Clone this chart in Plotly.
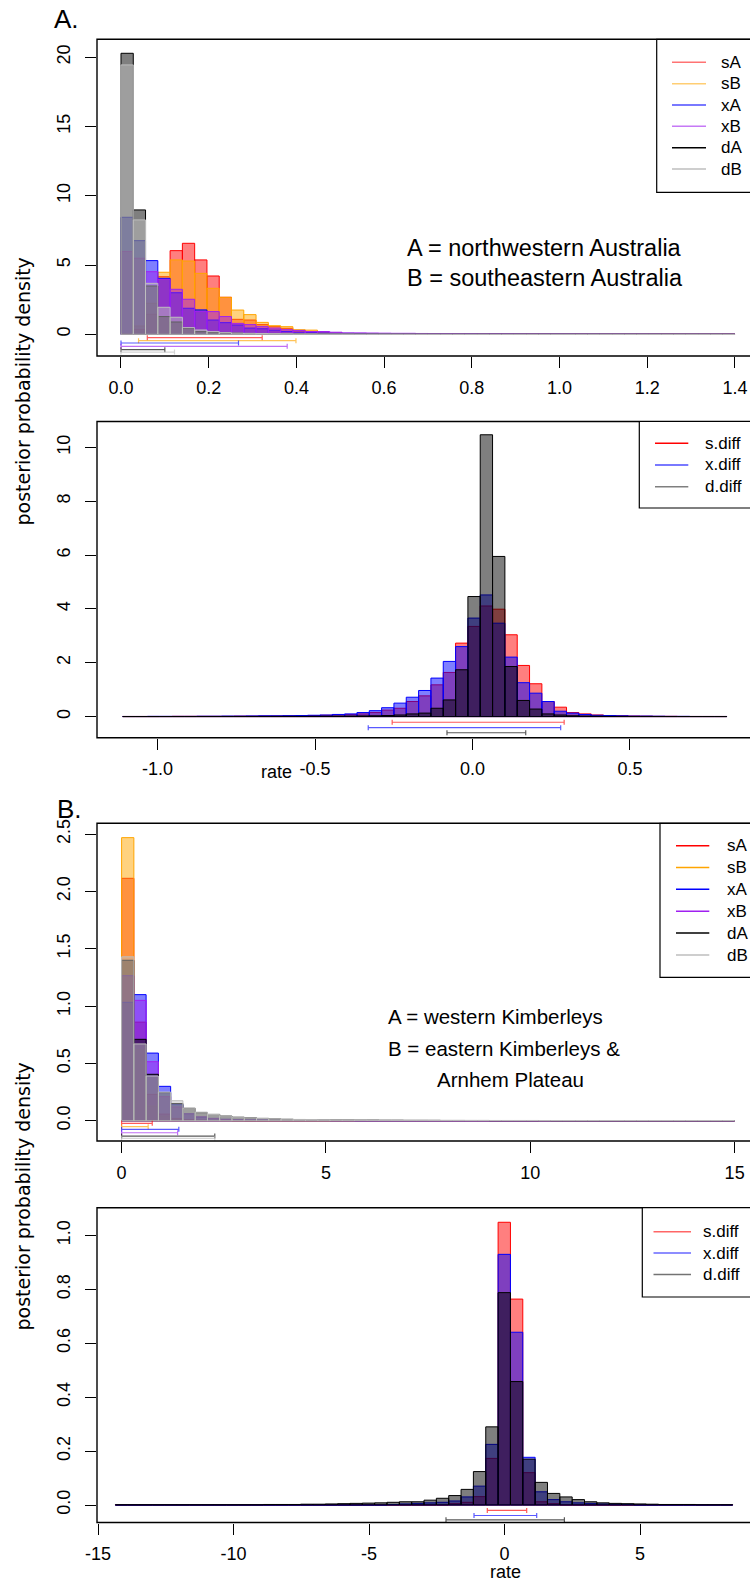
import plotly.graph_objects as go

# ======================= DATA =======================
# Panel A, top: posterior densities of rates (histogram bins, width 0.028 from 0)
A1_bin_start = 0.0
A1_bin_width = 0.028
A1_names = ["sA", "sB", "xA", "xB", "dA", "dB"]
A1_sA = [0, 0.35, 1.44, 4.16, 6.04, 6.57, 5.37, 4.21, 2.67, 1.08,
         1.03, 0.70, 0.55, 0.43, 0.22, 0.15, 0.10, 0.08, 0.06, 0.05,
         0.04, 0.03, 0.03, 0.02, 0.02, 0.02, 0.01, 0.01, 0.01, 0.01,
         0.01, 0.01, 0.005, 0.005, 0.005, 0.005, 0.005, 0.005, 0, 0,
         0, 0, 0, 0, 0.005, 0, 0, 0, 0, 0.005]
A1_sB = [0, 0.60, 2.24, 4.48, 5.37, 5.29, 4.40, 3.32, 2.67, 1.75,
         1.42, 0.86, 0.62, 0.55, 0.33, 0.30, 0.10, 0.08, 0.06, 0.05,
         0.04, 0.03, 0.03, 0.02, 0.02, 0.01, 0.01, 0.01, 0.01, 0.005,
         0.005, 0.005, 0.005, 0.005, 0, 0, 0, 0, 0, 0,
         0, 0, 0, 0, 0, 0, 0, 0, 0, 0]
A1_xA = [8.45, 6.76, 5.32, 4.04, 3.00, 1.88, 1.76, 1.03, 0.84, 0.67,
         0.45, 0.40, 0.30, 0.20, 0.15, 0.12, 0.10, 0.08, 0.07, 0.06,
         0.05, 0.04, 0.035, 0.03, 0.025, 0.02, 0.02, 0.015, 0.015, 0.01,
         0.01, 0.01, 0.01, 0.008, 0.008, 0.006, 0.006, 0.005, 0.005, 0.004,
         0.004, 0.003, 0.003, 0.003, 0.002, 0.002, 0.002, 0.002, 0.001, 0.001]
A1_xB = [5.97, 5.49, 4.52, 3.97, 3.25, 2.53, 1.64, 1.64, 1.28, 0.79,
         0.70, 0.55, 0.45, 0.33, 0.28, 0.20, 0.20, 0.15, 0.10, 0.10,
         0.09, 0.08, 0.07, 0.07, 0.06, 0.05, 0.05, 0.04, 0.04, 0.03,
         0.03, 0.03, 0.02, 0.02, 0.02, 0.02, 0.015, 0.015, 0.01, 0.01,
         0.01, 0.01, 0.01, 0.008, 0.008, 0.006, 0.006, 0.005, 0.005, 0.005]
A1_dA = [20.29, 8.98, 3.49, 1.28, 0.89, 0.43, 0.19, 0.12, 0.10, 0.08,
         0.06, 0.05, 0.04, 0.03, 0.03, 0.02, 0.02, 0.015, 0.01, 0.01,
         0.01, 0.008, 0.006, 0.005, 0.005, 0.004, 0.003, 0.003, 0.002, 0.002,
         0, 0, 0, 0, 0, 0, 0, 0, 0, 0,
         0, 0, 0, 0, 0, 0, 0, 0, 0, 0]
A1_dB = [19.45, 8.26, 3.68, 1.95, 1.23, 0.48, 0.31, 0.19, 0.12, 0.09,
         0.07, 0.06, 0.05, 0.04, 0.03, 0.03, 0.02, 0.02, 0.015, 0.01,
         0.01, 0.01, 0.008, 0.006, 0.005, 0.004, 0.003, 0.003, 0.002, 0.002,
         0, 0, 0, 0, 0, 0, 0, 0, 0, 0,
         0, 0, 0, 0, 0, 0, 0, 0, 0, 0]
A1_hpd_lo = [0.060, 0.040, 0.0, 0.0, 0.0, 0.0]
A1_hpd_hi = [0.322, 0.399, 0.268, 0.379, 0.100, 0.122]
A1_xticks = [0.0, 0.2, 0.4, 0.6, 0.8, 1.0, 1.2, 1.4]
A1_xticktext = ["0.0", "0.2", "0.4", "0.6", "0.8", "1.0", "1.2", "1.4"]
A1_yticks = [0, 5, 10, 15, 20]
A1_yticktext = ["0", "5", "10", "15", "20"]

# Panel A, bottom: differences (49 bins)
A2_bin_start = -1.1105
A2_bin_width = 0.03914
A2_names = ["s.diff", "x.diff", "d.diff"]
A2_s = [0.005, 0.005, 0.005, 0.005, 0.01, 0.01, 0.01, 0.01, 0.01, 0.015,
        0.015, 0.02, 0.02, 0.025, 0.03, 0.04, 0.05, 0.07, 0.08, 0.10,
        0.15, 0.24, 0.31, 0.56, 0.77, 1.18, 1.64, 2.73, 3.35, 4.11,
        3.99, 3.04, 1.90, 1.22, 0.56, 0.35, 0.15, 0.10, 0.06, 0.04,
        0.03, 0.02, 0.015, 0.01, 0.01, 0.005, 0.005, 0.005, 0.005]
A2_x = [0.005, 0.005, 0.01, 0.01, 0.01, 0.01, 0.015, 0.015, 0.02, 0.02,
        0.025, 0.03, 0.03, 0.035, 0.04, 0.05, 0.06, 0.08, 0.10, 0.15,
        0.22, 0.33, 0.50, 0.72, 0.97, 1.43, 2.05, 2.60, 3.66, 4.52,
        3.47, 2.21, 1.26, 0.87, 0.56, 0.20, 0.13, 0.08, 0.05, 0.04,
        0.03, 0.02, 0.02, 0.015, 0.01, 0.01, 0.005, 0.005, 0.005]
A2_d = [0.002, 0.002, 0.002, 0.003, 0.003, 0.003, 0.004, 0.004, 0.005, 0.005,
        0.006, 0.007, 0.008, 0.01, 0.01, 0.012, 0.015, 0.018, 0.02, 0.025,
        0.03, 0.04, 0.06, 0.10, 0.13, 0.31, 0.62, 1.74, 4.46, 10.47,
        5.95, 1.86, 0.60, 0.28, 0.10, 0.06, 0.03, 0.02, 0.015, 0.01,
        0.008, 0.006, 0.005, 0.004, 0.003, 0.003, 0.002, 0.002, 0.002]
A2_hpd_lo = [-0.255, -0.331, -0.081]
A2_hpd_hi = [0.291, 0.280, 0.169]
A2_xticks = [-1.0, -0.5, 0.0, 0.5]
A2_xticktext = ["-1.0", "-0.5", "0.0", "0.5"]
A2_yticks = [0, 2, 4, 6, 8, 10]
A2_yticktext = ["0", "2", "4", "6", "8", "10"]

# Panel B, top: posterior densities of rates (bins width 0.3 from 0)
B1_bin_start = 0.0
B1_bin_width = 0.3
B1_names = ["sA", "sB", "xA", "xB", "dA", "dB"]
B1_sA = [2.115, 0.86, 0.23, 0.058, 0.02, 0.01, 0.005, 0.003, 0.002, 0.001] + [0] * 40
B1_sB = [2.47, 0.62, 0.128, 0.04, 0.015, 0.005, 0.003, 0.002, 0.001, 0] + [0] * 40
B1_xA = [1.033, 1.10, 0.59, 0.30, 0.14, 0.06, 0.03, 0.02, 0.012, 0.008,
         0.006, 0.005, 0.004, 0.003, 0.003, 0.002, 0.002, 0.001, 0.001, 0] + [0] * 30
B1_xB = [1.265, 1.05, 0.515, 0.21, 0.12, 0.06, 0.035, 0.02, 0.012, 0.008,
         0.006, 0.005, 0.004, 0.003, 0.003, 0.002, 0.002, 0.001, 0.001, 0] + [0] * 30
B1_dA = [1.40, 0.71, 0.405, 0.245, 0.15, 0.108, 0.07, 0.055, 0.04, 0.03,
         0.025, 0.02, 0.015, 0.012, 0.01, 0.009, 0.008, 0.007, 0.006, 0.005,
         0.005, 0.004, 0.004, 0.003, 0.003, 0.003, 0.002, 0.002, 0.002, 0.002,
         0.001, 0.001, 0.001, 0.001, 0.001] + [0] * 15
B1_dB = [1.43, 0.67, 0.39, 0.25, 0.175, 0.11, 0.075, 0.055, 0.04, 0.03,
         0.025, 0.02, 0.016, 0.013, 0.011, 0.01, 0.009, 0.008, 0.007, 0.006,
         0.005, 0.005, 0.004, 0.004, 0.004, 0.003, 0.003, 0.003, 0.002, 0.002,
         0.002, 0.002, 0.002, 0.002, 0.001, 0.001, 0.001, 0.001, 0.001, 0.001,
         0.001, 0.001, 0.001, 0.001, 0.001, 0.001, 0.001, 0.001, 0.001, 0.001]
B1_hpd_lo = [0.0, 0.0, 0.0, 0.0, 0.0, 0.0]
B1_hpd_hi = [0.75, 0.65, 1.40, 1.37, 2.28, 2.28]
B1_xticks = [0, 5, 10, 15]
B1_xticktext = ["0", "5", "10", "15"]
B1_yticks = [0.0, 0.5, 1.0, 1.5, 2.0, 2.5]
B1_yticktext = ["0.0", "0.5", "1.0", "1.5", "2.0", "2.5"]

# Panel B, bottom: differences (50 bins)
B2_bin_start = -14.36
B2_bin_width = 0.4556
B2_names = ["s.diff", "x.diff", "d.diff"]
B2_s = [0] * 27 + [0.005, 0.01, 0.031, 0.173, 1.049, 0.764, 0.12, 0.012, 0.005] + [0] * 14
B2_x = [0] * 22 + [0.002, 0.004, 0.006, 0.008, 0.01, 0.015, 0.03, 0.07, 0.225, 0.93,
                   0.641, 0.177, 0.049, 0.02, 0.012, 0.008, 0.006, 0.004, 0.003, 0.002] + [0] * 8
B2_d = [0.001, 0.001, 0.001, 0.001, 0.001, 0.001, 0.001, 0.001, 0.001, 0.001,
        0.001, 0.001, 0.002, 0.002, 0.002, 0.003, 0.003, 0.004, 0.005, 0.006,
        0.007, 0.008, 0.010, 0.012, 0.012, 0.018, 0.025, 0.035, 0.058, 0.124,
        0.29, 0.788, 0.458, 0.17, 0.084, 0.043, 0.03, 0.02, 0.012, 0.008,
        0.006, 0.005, 0.004, 0.003, 0.002, 0.002, 0.002, 0.001, 0.001, 0.001]
B2_hpd_lo = [-0.635, -1.125, -2.159]
B2_hpd_hi = [0.819, 1.188, 2.210]
B2_xticks = [-15, -10, -5, 0, 5]
B2_xticktext = ["-15", "-10", "-5", "0", "5"]
B2_yticks = [0.0, 0.2, 0.4, 0.6, 0.8, 1.0]
B2_yticktext = ["0.0", "0.2", "0.4", "0.6", "0.8", "1.0"]

# ======================= STYLE =======================
W, H = 750, 1593
FONT = "Liberation Sans, Arial, Helvetica, sans-serif"
RGB = {"sA": (255, 0, 0), "sB": (255, 165, 0), "xA": (0, 0, 255), "xB": (160, 32, 240),
       "dA": (0, 0, 0), "dB": (190, 190, 190),
       "s.diff": (255, 0, 0), "x.diff": (0, 0, 255), "d.diff": (0, 0, 0)}


def rgba(c, a):
    return "rgba(%d,%d,%d,%.2f)" % (c[0], c[1], c[2], a)


def pxx(x):
    return x / W


def pxy(y):
    return 1 - y / H


# pixel layout of each plot box and axis ranges
panels = [
    dict(ax="", top=39.3, bottom=356.0, xr=[-0.0547, 1.4344], yr=[-1.567, 21.30],
         names=A1_names, series=[A1_sA, A1_sB, A1_xA, A1_xB, A1_dA, A1_dB],
         start=A1_bin_start, width=A1_bin_width, lo=A1_hpd_lo, hi=A1_hpd_hi,
         hpd_y=[-0.245, -0.46, -0.63, -0.87, -1.11, -1.28],
         xt=A1_xticks, xtt=A1_xticktext, yt=A1_yticks, ytt=A1_yticktext),
    dict(ax="2", top=421.5, bottom=737.7, xr=[-1.1921, 0.881], yr=[-0.784, 10.963],
         names=A2_names, series=[A2_s, A2_x, A2_d],
         start=A2_bin_start, width=A2_bin_width, lo=A2_hpd_lo, hi=A2_hpd_hi,
         hpd_y=[-0.21, -0.41, -0.60],
         xt=A2_xticks, xtt=A2_xticktext, yt=A2_yticks, ytt=A2_yticktext),
    dict(ax="3", top=823.3, bottom=1141.0, xr=[-0.602, 15.376], yr=[-0.177, 2.595],
         names=B1_names, series=[B1_sA, B1_sB, B1_xA, B1_xB, B1_dA, B1_dB],
         start=B1_bin_start, width=B1_bin_width, lo=B1_hpd_lo, hi=B1_hpd_hi,
         hpd_y=[-0.023, -0.052, -0.075, -0.105, -0.134, -0.154],
         xt=B1_xticks, xtt=B1_xticktext, yt=B1_yticks, ytt=B1_yticktext),
    dict(ax="4", top=1207.7, bottom=1522.5, xr=[-15.037, 9.059], yr=[-0.0649, 1.1031],
         names=B2_names, series=[B2_s, B2_x, B2_d],
         start=B2_bin_start, width=B2_bin_width, lo=B2_hpd_lo, hi=B2_hpd_hi,
         hpd_y=[-0.020, -0.039, -0.055],
         xt=B2_xticks, xtt=B2_xticktext, yt=B2_yticks, ytt=B2_yticktext),
]

fig = go.Figure()
layout = dict(width=W, height=H, margin=dict(l=0, r=0, t=0, b=0, pad=0, autoexpand=False),
              autosize=False,
              paper_bgcolor="white", plot_bgcolor="white", barmode="overlay",
              showlegend=False, font=dict(family=FONT, color="black"))
shapes = []
annotations = []

for p in panels:
    xa = "x" + p["ax"]
    ya = "y" + p["ax"]
    for name, vals in zip(p["names"], p["series"]):
        c = RGB[name]
        centers = [p["start"] + (i + 0.5) * p["width"] for i in range(len(vals))]
        fig.add_trace(go.Bar(x=centers, y=vals, width=p["width"], xaxis=xa, yaxis=ya,
                             marker=dict(color=rgba(c, 0.5), line=dict(color=rgba(c, 1.0), width=1)),
                             hoverinfo="skip"))
    for name, lo, hi, yv in zip(p["names"], p["lo"], p["hi"], p["hpd_y"]):
        c = RGB[name]
        mid = (lo + hi) / 2
        fig.add_trace(go.Scatter(x=[mid], y=[yv], xaxis=xa, yaxis=ya, mode="markers",
                                 marker=dict(size=1, color="rgba(0,0,0,0)"),
                                 error_x=dict(type="data", symmetric=False, array=[hi - mid],
                                              arrayminus=[mid - lo], color=rgba(c, 0.65),
                                              thickness=1.2, width=2.5),
                                 hoverinfo="skip"))
    dom_y = [pxy(p["bottom"]), pxy(p["top"])]
    layout["xaxis" + p["ax"]] = dict(
        domain=[pxx(97), 1.0], range=p["xr"], anchor=ya, showgrid=False, zeroline=False,
        showline=False, ticks="outside", ticklen=11, tickwidth=1, tickcolor="black",
        tickvals=p["xt"], ticktext=p["xtt"], tickfont=dict(family=FONT, size=18, color="black"),
        ticklabelstandoff=4, automargin=False, fixedrange=True)
    layout["yaxis" + p["ax"]] = dict(
        domain=dom_y, range=p["yr"], anchor=xa, showgrid=False, zeroline=False,
        showline=False, ticks="outside", ticklen=11, tickwidth=1, tickcolor="black",
        tickvals=p["yt"], ticktext=p["ytt"], tickangle=-90,
        tickfont=dict(family=FONT, size=18, color="black"), ticklabelstandoff=8,
        automargin=False, fixedrange=True)
    shapes.append(dict(type="rect", xref=xa + " domain", yref=ya + " domain",
                       x0=0, x1=1.05, y0=0, y1=1, line=dict(color="black", width=1.4),
                       fillcolor="rgba(0,0,0,0)", layer="above"))

# ---------------- legends (drawn like R legend boxes) ----------------
legend_specs = [
    dict(box=(656.7, 39.3, 192.3), ys=[62.3, 83.7, 105.0, 126.3, 147.7, 169.0],
         line=(672, 706), tx=719, names=A1_names, alpha=[0.55, 0.55, 0.7, 0.6, 1.0, 1.0]),
    dict(box=(639.3, 421.5, 508.0), ys=[443.3, 465.0, 486.7],
         line=(655, 688.3), tx=703, names=A2_names, alpha=[1.0, 0.7, 0.5]),
    dict(box=(660.0, 823.3, 977.3), ys=[845.7, 867.5, 889.3, 911.2, 933.0, 955.0],
         line=(676, 709.3), tx=725, names=B1_names, alpha=[1.0, 1.0, 1.0, 1.0, 1.0, 1.0]),
    dict(box=(642.3, 1207.7, 1297.0), ys=[1231.7, 1253.0, 1274.5],
         line=(653.5, 691), tx=701, names=B2_names, alpha=[0.6, 0.6, 0.55]),
]
for L in legend_specs:
    bx, btop, bbot = L["box"]
    shapes.append(dict(type="rect", xref="paper", yref="paper", x0=pxx(bx), x1=pxx(800),
                       y0=pxy(bbot), y1=pxy(btop), line=dict(color="black", width=1.2),
                       fillcolor="white", layer="above"))
    for name, yy, a in zip(L["names"], L["ys"], L["alpha"]):
        shapes.append(dict(type="line", xref="paper", yref="paper", x0=pxx(L["line"][0]),
                           x1=pxx(L["line"][1]), y0=pxy(yy), y1=pxy(yy),
                           line=dict(color=rgba(RGB[name], a), width=1.5), layer="above"))
        annotations.append(dict(text=name, x=pxx(L["tx"]), y=pxy(yy), xref="paper", yref="paper",
                                xanchor="left", yanchor="middle", showarrow=False,
                                font=dict(family=FONT, size=17, color="black")))

# ---------------- texts ----------------
texts = [
    ("A.", 52, 18.5, 26, "left"),
    ("B.", 55, 809, 26, "left"),
    ("A = northwestern Australia", 404.5, 247.7, 23.5, "left"),
    ("B = southeastern Australia", 404.5, 277.7, 23.5, "left"),
    ("A = western Kimberleys", 386, 1016, 20.5, "left"),
    ("B = eastern Kimberleys &", 386, 1048, 20.5, "left"),
    ("Arnhem Plateau", 435, 1079, 20.5, "left"),
    ("rate", 276, 772, 18, "center"),
    ("rate", 505, 1572, 18, "center"),
]
for t, x, y, s, anc in texts:
    annotations.append(dict(text=t, x=pxx(x), y=pxy(y), xref="paper", yref="paper",
                            xanchor=anc, yanchor="middle", showarrow=False,
                            font=dict(family=FONT, size=s, color="black")))
for yc in [392, 1197]:
    annotations.append(dict(text="posterior probability density", x=pxx(22.5), y=pxy(yc),
                            xref="paper", yref="paper", xanchor="center", yanchor="middle",
                            textangle=-90, showarrow=False,
                            font=dict(family="DejaVu Sans, Liberation Sans, sans-serif",
                                      size=19, color="black")))

layout["shapes"] = shapes
layout["annotations"] = annotations
fig.update_layout(**layout)
fig.write_html("out.html", config={"displayModeBar": False, "staticPlot": True},
               post_script="document.body.style.margin='0px';document.body.style.overflow='hidden';")
